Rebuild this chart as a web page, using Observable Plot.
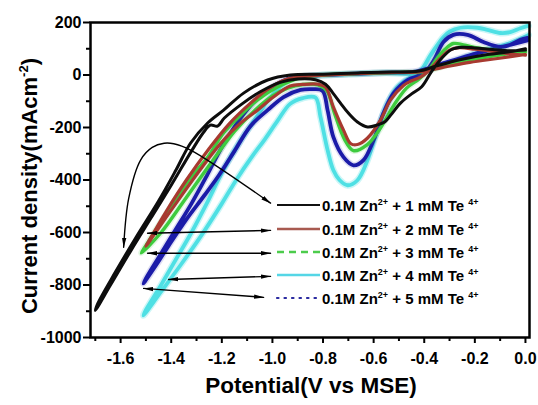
<!DOCTYPE html>
<html><head><meta charset="utf-8">
<script src="https://cdn.jsdelivr.net/npm/d3@7"></script>
<script src="https://cdn.jsdelivr.net/npm/@observablehq/plot@0.6"></script>
<style>body{margin:0;background:#fff}#chart{width:538px;height:405px}</style>
</head><body><div id="chart"></div>
<script>
// ---- data (potential V vs MSE, current density mA cm^-2) ----
const teConc = ["1", "2", "3", "4", "5"];
const colors = ["#0d0d0d", "#a83a30", "#3ecb3e", "#4fe0e4", "#1b1ba8"];

const E1 = [0.0,-0.06,-0.13,-0.2,-0.25,-0.29,-0.33,-0.37,-0.41,-0.45,-0.494,-0.53,-0.555,-0.585,-0.624,-0.664,-0.7,-0.731,-0.76,-0.79,-0.83,-0.9,-0.97,-1.05,-1.12,-1.19,-1.217,-1.245,-1.272,-1.32,-1.4,-1.48,-1.56,-1.64,-1.70,
 -1.69,-1.62,-1.54,-1.45,-1.38,-1.324,-1.256,-1.193,-1.114,-1.019,-0.929,-0.8,-0.66,-0.53,-0.42,-0.35,-0.25,-0.15,-0.05,0.0];
const J1 = [95,92,97,103,106,98,65,15,-45,-72,-107,-150,-178,-190,-198,-179,-145,-107,-70,-35,-18,-15,-28,-65,-110,-164,-195,-191,-218,-290,-420,-545,-670,-800,-897,
 -870,-750,-620,-480,-360,-260,-183,-134,-69,-19,0,3,8,11,15,35,60,78,90,100];

const E2 = [0.0,-0.06,-0.13,-0.2,-0.26,-0.3,-0.34,-0.38,-0.415,-0.45,-0.482,-0.533,-0.573,-0.624,-0.664,-0.69,-0.719,-0.759,-0.79,-0.82,-0.88,-0.93,-0.996,-1.059,-1.126,-1.2,-1.3,-1.4,-1.5,
 -1.49,-1.42,-1.34,-1.25,-1.17,-1.09,-1.02,-0.95,-0.87,-0.7,-0.55,-0.42,-0.33,-0.22,-0.11,0.0];
const J2 = [76,80,90,98,104,95,60,18,-8,-22,-40,-95,-172,-240,-265,-262,-210,-122,-46,-35,-36,-42,-84,-134,-183,-255,-380,-515,-652,
 -635,-520,-400,-280,-185,-110,-55,-18,-5,4,9,12,28,48,63,78];

const E3 = [0.0,-0.059,-0.126,-0.19,-0.245,-0.285,-0.318,-0.348,-0.38,-0.42,-0.47,-0.52,-0.575,-0.625,-0.68,-0.715,-0.755,-0.785,-0.82,-0.88,-0.94,-1.0,-1.07,-1.15,-1.25,-1.35,-1.44,-1.518,
 -1.50,-1.42,-1.33,-1.256,-1.193,-1.126,-1.059,-0.98,-0.889,-0.8,-0.65,-0.5,-0.4,-0.32,-0.22,-0.11,0.0];
const J3 = [88,88,95,103,115,120,98,65,22,-15,-50,-115,-205,-265,-288,-245,-145,-60,-38,-36,-50,-80,-135,-215,-345,-480,-600,-678,
 -650,-530,-400,-313,-221,-153,-95,-46,-11,0,6,10,13,35,58,75,92];

const E4 = [0.012,-0.02,-0.06,-0.099,-0.15,-0.19,-0.257,-0.3,-0.324,-0.35,-0.375,-0.415,-0.454,-0.506,-0.545,-0.585,-0.624,-0.664,-0.703,-0.735,-0.759,-0.782,-0.81,-0.83,-0.88,-0.93,-0.98,-1.03,-1.08,-1.14,-1.2,-1.28,-1.36,-1.44,-1.51,
 -1.50,-1.44,-1.38,-1.32,-1.26,-1.193,-1.126,-1.07,-1.02,-0.97,-0.92,-0.85,-0.7,-0.55,-0.454,-0.39,-0.324,-0.19,-0.059,0.012];
const J4 = [188,178,163,160,172,180,180,165,145,112,76,15,-8,-46,-107,-210,-324,-401,-420,-400,-363,-286,-160,-86,-88,-110,-175,-245,-310,-395,-490,-610,-720,-825,-916,
 -895,-800,-700,-600,-490,-360,-250,-170,-100,-45,-12,-3,3,8,5,20,38,84,122,153];

const E5 = [0.008,-0.02,-0.06,-0.099,-0.166,-0.229,-0.285,-0.324,-0.36,-0.39,-0.415,-0.466,-0.521,-0.561,-0.6,-0.64,-0.68,-0.719,-0.759,-0.782,-0.802,-0.84,-0.889,-0.956,-1.019,-1.087,-1.15,-1.21,-1.27,-1.34,-1.41,-1.46,-1.51,
 -1.50,-1.44,-1.38,-1.32,-1.26,-1.20,-1.13,-1.06,-0.99,-0.93,-0.85,-0.7,-0.55,-0.43,-0.34,-0.22,-0.1,0.008];
const J5 = [141,134,115,107,126,153,153,126,60,18,0,-19,-69,-145,-248,-324,-344,-313,-237,-134,-60,-54,-57,-84,-134,-195,-290,-380,-460,-550,-650,-725,-794,
 -775,-680,-585,-490,-385,-275,-170,-90,-40,-12,-3,4,9,14,40,75,105,132];

// annotation arrows (data units): legend end -> curve end
const arrowX1 = [-1.0075, -1.0075, -1.0075, -1.035];
const arrowY1 = [-592, -679, -767, -847];
const arrowX2 = [-1.4935, -1.4935, -1.4105, -1.509];
const arrowY2 = [-603, -679, -779, -813];
const arcX = [-1.0075, -1.3236, -1.39, -1.428, -1.475, -1.521, -1.568, -1.588];
const arcY = [-488, -286, -262, -260, -276, -324, -470, -656];

const xMajor = [-1.6,-1.4,-1.2,-1.0,-0.8,-0.6,-0.4,-0.2,0.0];
const xMinor = [-1.7,-1.5,-1.3,-1.1,-0.9,-0.7,-0.5,-0.3,-0.1];
const yMajor = [-1000,-800,-600,-400,-200,0,200];
const yMinor = [-900,-700,-500,-300,-100,100];

// ---- build ----
const Es = [E1,E2,E3,E4,E5], Js = [J1,J2,J3,J4,J5];
const series = Es.map((E,k) => E.map((e,i) => ({E: e, J: Js[k][i]})));
const order = [3, 4, 2, 1, 0];
const widths = [3.0, 3.2, 3.4, 3.8, 3.8];
const halo = [0, 0, 0.15, 0.3, 0.15];
const lineMarks = [];
for (const k of order) {
  if (halo[k] > 0) lineMarks.push(Plot.line(series[k], {x: "E", y: "J", stroke: colors[k], strokeWidth: widths[k] + 3, strokeOpacity: halo[k], curve: "catmull-rom"}));
  lineMarks.push(Plot.line(series[k], {x: "E", y: "J", stroke: colors[k], strokeWidth: widths[k], curve: "catmull-rom"}));
}
const arrows = [];
arrowX1.forEach((x, i) => {
  arrows.push({g: i, x: x, y: arrowY1[i]});
  arrows.push({g: i, x: arrowX2[i], y: arrowY2[i]});
});
const arc = arcX.map((x, i) => ({x, y: arcY[i]}));

const chart = Plot.plot({
  width: 538, height: 405,
  marginLeft: 90, marginRight: 9, marginTop: 22, marginBottom: 68,
  style: {fontFamily: "'Liberation Sans', Arial, sans-serif", fontWeight: "bold", fontSize: "16px", background: "white", color: "black"},
  x: {domain: [-1.719, 0.016]},
  y: {domain: [-1000, 200]},
  marks: [
    ...lineMarks,
    Plot.line(arrows, {x: "x", y: "y", z: "g", stroke: "black", strokeWidth: 1.4, className: "annot"}),
    Plot.line(arc, {x: "x", y: "y", stroke: "black", strokeWidth: 1.4, curve: "catmull-rom", className: "annot"}),
    Plot.axisX(xMajor, {tickSize: 6, tickPadding: 9, strokeWidth: 2, tickFormat: d => d.toFixed(1), label: null}),
    Plot.axisX(xMinor, {tickSize: 4, strokeWidth: 2, tickFormat: () => "", label: null}),
    Plot.axisY(yMajor, {tickSize: 7, tickPadding: 2, strokeWidth: 2, tickFormat: d => String(d), label: null}),
    Plot.axisY(yMinor, {tickSize: 4, strokeWidth: 2, tickFormat: () => "", label: null}),
    Plot.frame({stroke: "black", strokeWidth: 2.5})
  ]
});
document.getElementById("chart").appendChild(chart);

// ---- decorations: arrowheads, legend, axis titles ----
const svg = d3.select(chart);
svg.append("defs").append("marker")
  .attr("id", "ah").attr("viewBox", "0 0 10 5").attr("refX", 9.5).attr("refY", 2.5)
  .attr("markerWidth", 10).attr("markerHeight", 5).attr("markerUnits", "userSpaceOnUse")
  .attr("orient", "auto-start-reverse")
  .append("path").attr("d", "M0,0.3L10,2.5L0,4.7Z").attr("fill", "#000");
svg.selectAll(".annot path").attr("marker-start", "url(#ah)").attr("marker-end", "url(#ah)");

const legendRows = [205, 229, 252, 275, 298];
const sampleStyle = [
  {c: "#111", w: 2, d: null},
  {c: "#a85a50", w: 2.4, d: null},
  {c: "#4ccc4c", w: 2.4, d: "7,5"},
  {c: "#55d6e6", w: 2.6, d: null},
  {c: "#2a2aa0", w: 2.2, d: "1.5,6"}
];
const lg = svg.append("g").attr("font-family", "'Liberation Sans', Arial, sans-serif")
  .attr("font-weight", "bold").attr("text-anchor", "start");
legendRows.forEach((yy, i) => {
  const s = sampleStyle[i];
  lg.append("line").attr("x1", 277).attr("x2", 320).attr("y1", yy).attr("y2", yy)
    .attr("stroke", s.c).attr("stroke-width", s.w).attr("stroke-dasharray", s.d)
    .attr("stroke-linecap", s.d && s.d.startsWith("1.5") ? "round" : "butt");
  const t = lg.append("text").attr("x", 322).attr("y", yy + 5.5).attr("font-size", 15)
    .attr("fill", "#000").attr("text-anchor", "start");
  t.append("tspan").text("0.1M Zn");
  t.append("tspan").attr("font-size", 9).attr("dy", -6).text("2+");
  t.append("tspan").attr("dy", 6).text(" + " + teConc[i] + " mM Te ");
  t.append("tspan").attr("font-size", 9).attr("dy", -6).text("4+");
});

const yl = svg.append("text").attr("transform", "translate(37,186) rotate(-90)")
  .attr("text-anchor", "middle").attr("font-size", 22).attr("font-weight", "bold")
  .attr("font-family", "'Liberation Sans', Arial, sans-serif").attr("fill", "#000");
yl.append("tspan").text("Current density(mAcm");
yl.append("tspan").attr("font-size", 13).attr("dy", -9).text("-2");
yl.append("tspan").attr("dy", 9).text(")");

svg.append("text").attr("x", 311).attr("y", 393).attr("text-anchor", "middle")
  .attr("font-size", 22.5).attr("font-weight", "bold")
  .attr("font-family", "'Liberation Sans', Arial, sans-serif").attr("fill", "#000")
  .text("Potential(V vs MSE)");
</script>
</body></html>
